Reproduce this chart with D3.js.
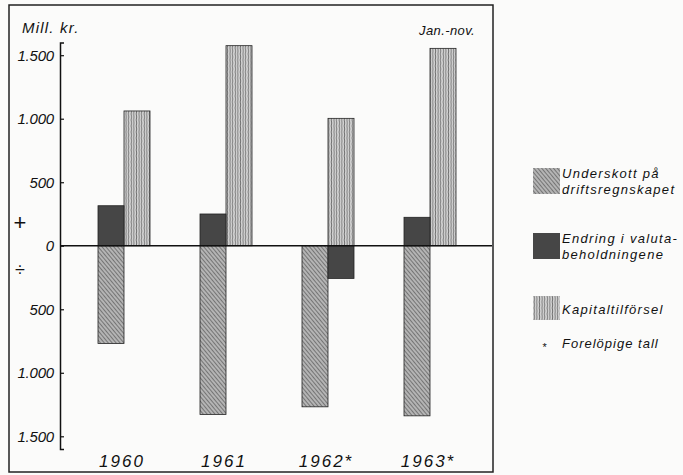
<!DOCTYPE html>
<html>
<head>
<meta charset="utf-8">
<script src="https://cdn.jsdelivr.net/npm/d3@7"></script>
<style>
  body { margin: 0; background: #fbfbfa; }
  text { font-family: "Liberation Sans", Arial, sans-serif; font-style: italic; fill: #111; }
</style>
</head>
<body>
<div id="chart"></div>
<script>
// Data
const years = ["1960", "1961", "1962", "1963"];
const yearLabels = ["1960", "1961", "1962*", "1963*"];
const underskott = [-769, -1328, -1268, -1339];
const valuta = [315, 250, -257, 224];
const kapital = [1061, 1575, 1003, 1554];
const tickValues = [1500, 1000, 500, 0, -500, -1000, -1500];
const legendLabels = [
    ["Underskott på", "driftsregnskapet"],
    ["Endring i valuta-", "beholdningene"],
    ["Kapitaltilförsel"]
];

const dim = { width: 683, height: 475 };

const svg = d3.select("#chart")
    .append("svg")
    .attr("width", dim.width)
    .attr("height", dim.height);

const defs = svg.append("defs");

// skravert mønster for underskott
const p1 = defs.append("pattern")
    .attr("id", "hatch")
    .attr("patternUnits", "userSpaceOnUse")
    .attr("width", 3).attr("height", 3)
    .attr("patternTransform", "rotate(-40)");
p1.append("rect").attr("width", 3).attr("height", 3).attr("fill", "#b4b4b4");
p1.append("line").attr("x1", 0).attr("y1", 0).attr("x2", 0).attr("y2", 3)
    .attr("stroke", "#4a4a4a").attr("stroke-width", 1.2);

// loddrett mønster for kapitaltilførsel
const p2 = defs.append("pattern")
    .attr("id", "vert")
    .attr("patternUnits", "userSpaceOnUse")
    .attr("width", 2.6).attr("height", 6);
p2.append("rect").attr("width", 2.6).attr("height", 6).attr("fill", "#d4d4d4");
p2.append("path").attr("d", "M1,0 L1.5,3 L1,6")
    .attr("fill", "none").attr("stroke", "#6e6e6e").attr("stroke-width", 0.9);

// ramme
svg.append("rect")
    .attr("x", 9).attr("y", 5)
    .attr("width", 484).attr("height", 467)
    .attr("fill", "none")
    .attr("stroke", "#222")
    .attr("stroke-width", 1.5);

// skalaer
const x = d3.scaleBand().domain(years).range([73, 481]);
const y = d3.scaleLinear().domain([-1600, 1600]).range([449, 42.5]);
const barW = 26;
const slotX = (year, slot) => x(year) + x.bandwidth() / 2 - barW + slot * barW;

// y-akse
const axis = svg.append("g").attr("transform", "translate(60,0)");
axis.call(d3.axisRight(y).tickValues(tickValues).tickSize(4).tickFormat(""));
axis.select(".domain").attr("stroke", "#111").attr("stroke-width", 1.5);
axis.selectAll(".tick line").attr("stroke", "#111").attr("stroke-width", 1.2);

const fmt = v => d3.format(",")(Math.abs(v)).replace(/,/g, ".");
svg.selectAll(".ylab")
    .data(tickValues)
    .enter().append("text")
    .attr("class", "ylab")
    .attr("x", 54)
    .attr("y", d => y(d) + 5.5)
    .attr("text-anchor", "end")
    .style("font-size", "15px")
    .style("letter-spacing", "-0.2px")
    .text(d => fmt(d));

svg.append("text").attr("x", 22).attr("y", 33).style("font-size", "15px")
    .style("letter-spacing", "1.2px").text("Mill. kr.");
svg.append("text").attr("x", 419).attr("y", 35).style("font-size", "13px")
    .style("letter-spacing", "0.4px").text("Jan.-nov.");
svg.append("text").attr("x", 20).attr("y", y(180) + 7).attr("text-anchor", "middle")
    .style("font-size", "22px").style("font-style", "normal").text("+");
svg.append("text").attr("x", 20).attr("y", y(-190) + 6).attr("text-anchor", "middle")
    .style("font-size", "18px").style("font-style", "normal").text("÷");

// stolper
const bars = [];
years.forEach((yr, i) => {
    bars.push({ year: yr, value: underskott[i], slot: 0, fill: "url(#hatch)" });
    bars.push({ year: yr, value: kapital[i], slot: 1, fill: "url(#vert)" });
    bars.push({ year: yr, value: valuta[i], slot: valuta[i] >= 0 ? 0 : 1, fill: "#464646" });
});

svg.selectAll(".bar")
    .data(bars)
    .enter().append("rect")
    .attr("class", "bar")
    .attr("x", d => slotX(d.year, d.slot))
    .attr("width", barW)
    .attr("y", d => y(Math.max(0, d.value)))
    .attr("height", d => Math.abs(y(d.value) - y(0)))
    .attr("fill", d => d.fill)
    .attr("stroke", "#222")
    .attr("stroke-width", 0.8);

// nullinje
svg.append("line")
    .attr("x1", 60).attr("x2", 492)
    .attr("y1", y(0)).attr("y2", y(0))
    .attr("stroke", "#111")
    .attr("stroke-width", 1.6);

// årstall
svg.selectAll(".xlab")
    .data(years)
    .enter().append("text")
    .attr("class", "xlab")
    .attr("x", d => x(d) + x.bandwidth() / 2 - 2)
    .attr("y", 467)
    .attr("text-anchor", "middle")
    .style("font-size", "17px")
    .style("letter-spacing", "2px")
    .text((d, i) => yearLabels[i]);

// tegnforklaring
const legendFills = ["url(#hatch)", "#464646", "url(#vert)"];
const legendY = [168, 233, 296];
const legend = svg.selectAll(".legend")
    .data(legendLabels)
    .enter().append("g")
    .attr("class", "legend")
    .attr("transform", (d, i) => `translate(533,${legendY[i]})`);

legend.append("rect")
    .attr("width", 27)
    .attr("height", (d, i) => i === 2 ? 24 : 26)
    .attr("fill", (d, i) => legendFills[i]);

legend.selectAll("text")
    .data(d => d)
    .enter().append("text")
    .attr("x", 29)
    .attr("y", (d, j, nodes) => nodes.length === 1 ? 18 : 10 + j * 16)
    .style("font-size", "13px")
    .style("letter-spacing", "1.3px")
    .text(d => d);

svg.append("text").attr("x", 542).attr("y", 351).style("font-size", "11px").text("*");
svg.append("text").attr("x", 562).attr("y", 348).style("font-size", "13px")
    .style("letter-spacing", "1px").text("Forelöpige tall");
</script>
</body>
</html>
